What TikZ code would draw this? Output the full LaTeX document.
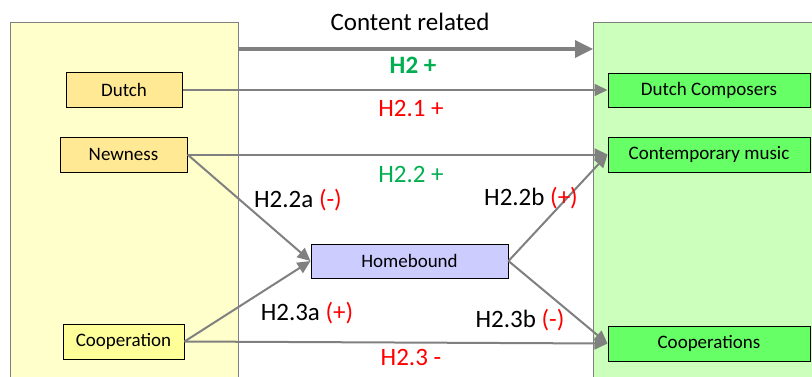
\documentclass[tikz,border=0pt]{standalone}
\usepackage{fontspec}
\setmainfont{Carlito}
\usetikzlibrary{arrows.meta}
\definecolor{lpanel}{HTML}{FFFFCC}
\definecolor{rpanel}{HTML}{CCFFBB}
\definecolor{orbox}{HTML}{FFE994}
\definecolor{ylbox}{HTML}{FFFF99}
\definecolor{blbox}{HTML}{CCCCFF}
\definecolor{grbox}{HTML}{66FF66}
\definecolor{arr}{HTML}{808080}
\definecolor{hgreen}{HTML}{00B050}
\definecolor{hred}{HTML}{FF0000}
\tikzset{
  panel/.style={draw=arr, line width=1pt},
  box/.style={draw=black, line width=1pt, minimum height=35pt, inner sep=0pt, font=\fontsize{19}{21}\selectfont},
  conn/.style={draw=arr, line width=2pt, -{Triangle[width=12pt,length=13pt]}},
  lab/.style={font=\fontsize{25}{27}\selectfont, inner sep=0pt}
}
\begin{document}
\begin{tikzpicture}[x=1pt,y=-1pt]
\useasboundingbox (0,0) rectangle (812,376);
\clip (0,0) rectangle (812,376);
\fill[white] (0,0) rectangle (812,376);
\draw[panel, fill=lpanel] (10,22) rectangle (238,390);
\draw[panel, fill=rpanel] (593,22) rectangle (830,390);
\node[box, fill=orbox, minimum width=116pt] (dutch) at (124,90) {Dutch};
\node[box, fill=orbox, minimum width=127pt] (new) at (123.5,154.5) {Newness};
\node[box, fill=ylbox, minimum width=121pt] (coop) at (123.5,341.5) {Cooperation};
\node[box, fill=blbox, minimum width=197pt, minimum height=34pt] (home) at (409.5,261) {Homebound};
\node[box, fill=grbox, minimum width=202pt, minimum height=34pt] (dc) at (709,90) {Dutch Composers};
\node[box, fill=grbox, minimum width=202pt] (cm) at (709,154.5) {Contemporary music};
\node[box, fill=grbox, minimum width=202pt] (cps) at (709,343.5) {Cooperations};
\coordinate (ls) at (238,49);
\coordinate (le) at (593,49);
\draw[draw=arr, line width=3.5pt, -{Triangle[width=17pt,length=18pt]}] (ls) -- (le);
\draw[conn] (dutch.east) -- (dc.west);
\draw[conn] (new.east) -- (cm.west);
\draw[conn] (new.east) -- (home.west);
\draw[conn] (coop.east) -- (home.west);
\draw[conn] (home.east) -- (cm.west);
\draw[conn] (home.east) -- (cps.west);
\draw[conn] (coop.east) -- (cps.west);
\node[lab] (t0) at (410,22) {Content related};
\node[lab, text=hgreen, font=\fontsize{25}{27}\selectfont\bfseries] (t1) at (413,65) {H2 +};
\node[lab, text=hred] (t2) at (411,108) {H2.1 +};
\node[lab, text=hgreen] (t3) at (411,174) {H2.2 +};
\node[lab] (t4) at (298,200) {H2.2a \textcolor{hred}{(-)}};
\node[lab] (t5) at (531,198) {H2.2b \textcolor{hred}{(+)}};
\node[lab] (t6) at (307,313) {H2.3a \textcolor{hred}{(+)}};
\node[lab] (t7) at (520,320) {H2.3b \textcolor{hred}{(-)}};
\node[lab, text=hred] (t8) at (411,357) {H2.3 -};
\end{tikzpicture}
\end{document}
